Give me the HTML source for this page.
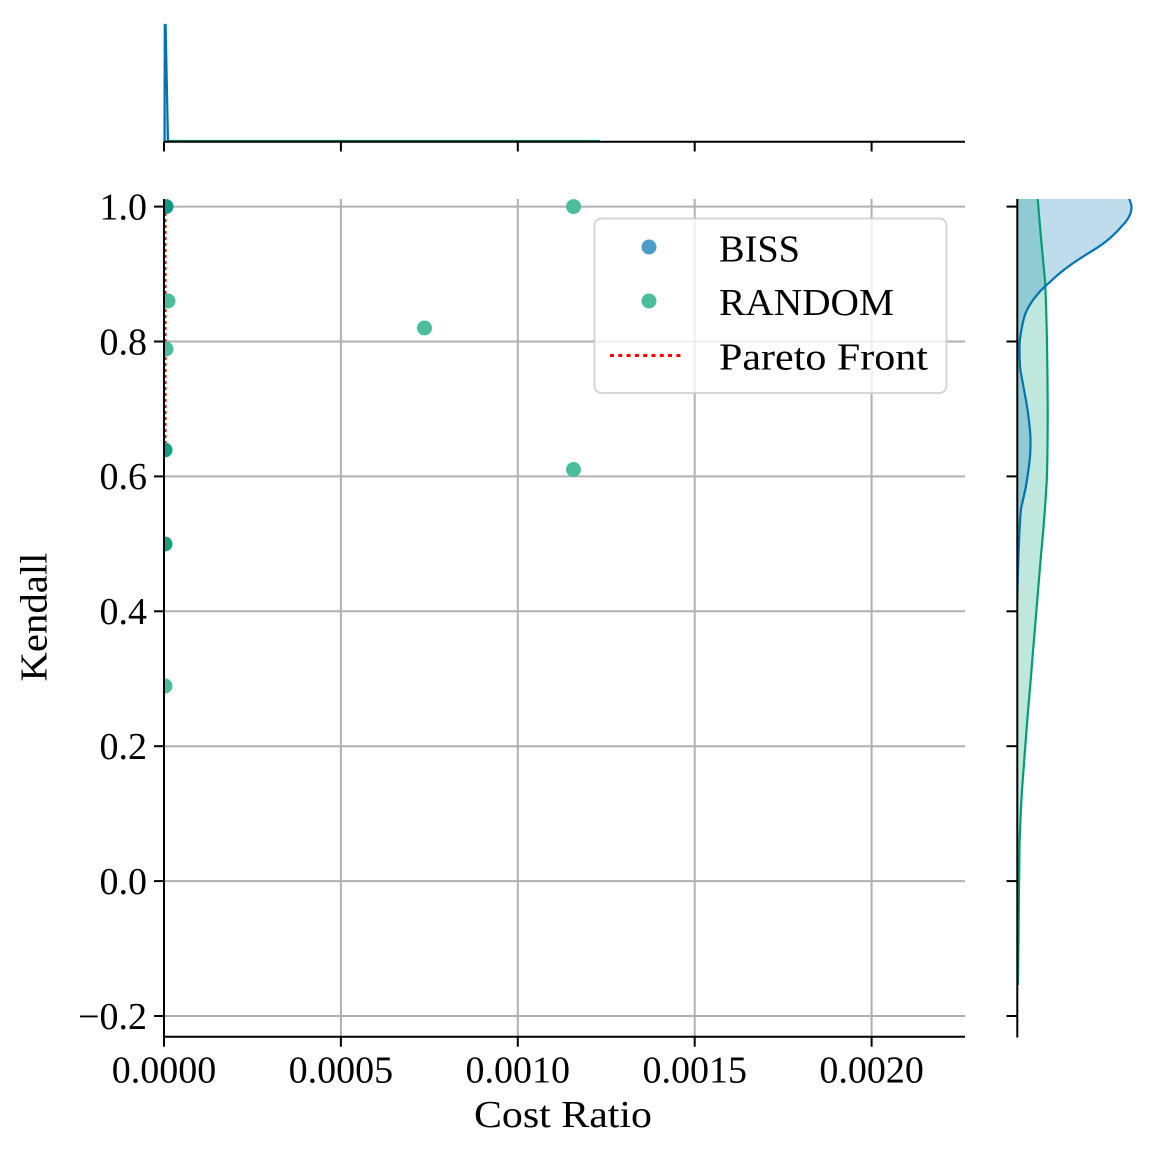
<!DOCTYPE html>
<html><head><meta charset="utf-8"><style>
html,body{margin:0;padding:0;background:#fff;}
svg{display:block;}
text{font-family:"Liberation Serif","DejaVu Serif",serif;fill:#000;}
</style></head><body>
<svg width="1155" height="1156" viewBox="0 0 1155 1156" xmlns="http://www.w3.org/2000/svg">
<defs>
<clipPath id="main"><rect x="164" y="199" width="801" height="838"/></clipPath>
<clipPath id="right"><rect x="1017" y="199" width="138" height="838"/></clipPath>
</defs>
<rect width="1155" height="1156" fill="#fff"/>

<!-- grid -->
<g stroke="#b0b0b0" stroke-width="2" fill="none">
<line x1="340.9" y1="199" x2="340.9" y2="1036.7"/>
<line x1="517.8" y1="199" x2="517.8" y2="1036.7"/>
<line x1="694.7" y1="199" x2="694.7" y2="1036.7"/>
<line x1="871.6" y1="199" x2="871.6" y2="1036.7"/>
<line x1="164" y1="206.6" x2="965" y2="206.6"/>
<line x1="164" y1="341.5" x2="965" y2="341.5"/>
<line x1="164" y1="476.4" x2="965" y2="476.4"/>
<line x1="164" y1="611.3" x2="965" y2="611.3"/>
<line x1="164" y1="746.2" x2="965" y2="746.2"/>
<line x1="164" y1="881.1" x2="965" y2="881.1"/>
<line x1="164" y1="1016" x2="965" y2="1016"/>
</g>

<!-- scatter -->
<g clip-path="url(#main)">
<line x1="165.5" y1="207" x2="165.5" y2="450" stroke="#ff0000" stroke-width="2" stroke-dasharray="3,3"/>
<circle cx="166" cy="206.6" r="7.5" fill="rgb(16,150,135)"/>
<circle cx="168" cy="301" r="7.5" fill="rgb(76,189,154)"/>
<circle cx="166" cy="349" r="7.5" fill="rgb(76,189,154)"/>
<circle cx="165" cy="450" r="7.5" fill="rgb(20,158,128)"/>
<circle cx="165" cy="544" r="7.5" fill="rgb(20,162,125)"/>
<circle cx="165" cy="686" r="7.5" fill="rgb(76,189,154)"/>
<circle cx="424.5" cy="328" r="7.5" fill="rgb(76,189,154)"/>
<circle cx="573.5" cy="206.6" r="7.5" fill="rgb(76,189,154)"/>
<circle cx="573.5" cy="469.5" r="7.5" fill="rgb(76,189,154)"/>
</g>

<!-- main spines & ticks -->
<g stroke="#000" stroke-width="2" fill="none">
<line x1="164" y1="199" x2="164" y2="1037.5"/>
<line x1="163" y1="1036.7" x2="965" y2="1036.7"/>
<line x1="154" y1="206.6" x2="164" y2="206.6"/>
<line x1="154" y1="341.5" x2="164" y2="341.5"/>
<line x1="154" y1="476.4" x2="164" y2="476.4"/>
<line x1="154" y1="611.3" x2="164" y2="611.3"/>
<line x1="154" y1="746.2" x2="164" y2="746.2"/>
<line x1="154" y1="881.1" x2="164" y2="881.1"/>
<line x1="154" y1="1016" x2="164" y2="1016"/>
<line x1="164" y1="1036.7" x2="164" y2="1046.7"/>
<line x1="340.9" y1="1036.7" x2="340.9" y2="1046.7"/>
<line x1="517.8" y1="1036.7" x2="517.8" y2="1046.7"/>
<line x1="694.7" y1="1036.7" x2="694.7" y2="1046.7"/>
<line x1="871.6" y1="1036.7" x2="871.6" y2="1046.7"/>
</g>

<!-- y tick labels -->
<g font-size="38" text-anchor="end">
<text x="147" y="219.4">1.0</text>
<text x="147" y="354.3">0.8</text>
<text x="147" y="489.2">0.6</text>
<text x="147" y="624.1">0.4</text>
<text x="147" y="759">0.2</text>
<text x="147" y="893.9">0.0</text>
<text x="147" y="1028.8">−0.2</text>
</g>
<!-- x tick labels -->
<g font-size="38" text-anchor="middle">
<text x="164" y="1082.5">0.0000</text>
<text x="340.9" y="1082.5">0.0005</text>
<text x="517.8" y="1082.5">0.0010</text>
<text x="694.7" y="1082.5">0.0015</text>
<text x="871.6" y="1082.5">0.0020</text>
</g>
<text x="474" y="1127" font-size="38" textLength="178" lengthAdjust="spacingAndGlyphs">Cost Ratio</text>
<text transform="translate(46.7,681.5) rotate(-90)" font-size="38" textLength="129" lengthAdjust="spacingAndGlyphs">Kendall</text>

<!-- legend -->
<rect x="594.5" y="218.5" width="352" height="174.5" rx="7" ry="7" fill="#fff" fill-opacity="0.8" stroke="#cccccc" stroke-opacity="0.8" stroke-width="2"/>
<circle cx="649" cy="247" r="7.5" fill="rgb(75,156,201)"/>
<circle cx="649" cy="301" r="7.5" fill="rgb(76,189,154)"/>
<line x1="610" y1="355.5" x2="681" y2="355.5" stroke="#ff0000" stroke-width="3" stroke-dasharray="4,4.3"/>
<text x="719" y="261.5" font-size="38" textLength="81" lengthAdjust="spacingAndGlyphs">BISS</text>
<text x="719" y="315" font-size="38" textLength="175" lengthAdjust="spacingAndGlyphs">RANDOM</text>
<text x="719" y="369.3" font-size="38" textLength="209" lengthAdjust="spacingAndGlyphs">Pareto Front</text>

<!-- top marginal -->
<path d="M164,141.7 L164.5,25 L165.5,25 L168,141.7 Z" fill="rgba(1,115,178,0.25)"/>
<line x1="167" y1="140.6" x2="600" y2="140.6" stroke="#029e73" stroke-width="1.5"/>
<polyline points="164.5,141.7 164.8,25 165.6,25 168,141.7" fill="none" stroke="#0173b2" stroke-width="2.2"/>
<g stroke="#000" stroke-width="2" fill="none">
<line x1="164" y1="141.7" x2="965" y2="141.7"/>
<line x1="164" y1="141.7" x2="164" y2="151.5"/>
<line x1="340.9" y1="141.7" x2="340.9" y2="151.5"/>
<line x1="517.8" y1="141.7" x2="517.8" y2="151.5"/>
<line x1="694.7" y1="141.7" x2="694.7" y2="151.5"/>
<line x1="871.6" y1="141.7" x2="871.6" y2="151.5"/>
</g>

<!-- right marginal -->
<g clip-path="url(#right)">
<path id="gk" d="M1017,190 L1037,190 C1037.7,199 1041,240 1045,280 C1047,320 1047.5,360 1047.7,413 C1047.6,450 1047.5,470 1046.5,485 C1045,510 1043,535 1041,555 C1037,600 1035,630 1032.7,655 C1030,690 1028.5,705 1027.5,717 C1025,750 1023.5,770 1022,790 C1020.5,815 1020,830 1019.5,845 C1018.8,900 1018.3,950 1018,985 L1017,985 Z" fill="rgba(2,158,115,0.25)" stroke="none"/>
<path d="M1017,190 L1126,190 C1129,199 1131.5,203 1131.5,207 C1131.5,214 1128,220 1122,226 C1115,234 1107,242 1092,251 C1077,260 1062,270 1050,282 C1043,288 1040,291 1037,295 C1031,302 1029,306 1027,310 C1024,316 1023,321 1022,327 C1020,336 1019.5,342 1019.5,347 C1019.5,355 1019.7,361 1020,367 C1021,375 1022.5,381 1023.5,387 C1025.5,398 1027,405 1028,413 C1029.5,425 1030.5,432 1030.5,440 C1030.6,447 1030.3,452 1030,457 C1029,467 1028,473 1027,480 C1025.5,490 1024,495 1023,500 C1022,504 1021.5,506 1021,509 C1020.3,516 1019.8,524 1019.5,531 C1018.8,545 1018.3,560 1018,570 C1017.6,585 1017.4,595 1017.2,600 L1017,600 Z" fill="rgba(1,115,178,0.25)" stroke="none"/>
<path d="M1037,190 C1037.7,199 1041,240 1045,280 C1047,320 1047.5,360 1047.7,413 C1047.6,450 1047.5,470 1046.5,485 C1045,510 1043,535 1041,555 C1037,600 1035,630 1032.7,655 C1030,690 1028.5,705 1027.5,717 C1025,750 1023.5,770 1022,790 C1020.5,815 1020,830 1019.5,845 C1018.8,900 1018.3,950 1018,985" fill="none" stroke="#029e73" stroke-width="2.2"/>
<path d="M1126,190 C1129,199 1131.5,203 1131.5,207 C1131.5,214 1128,220 1122,226 C1115,234 1107,242 1092,251 C1077,260 1062,270 1050,282 C1043,288 1040,291 1037,295 C1031,302 1029,306 1027,310 C1024,316 1023,321 1022,327 C1020,336 1019.5,342 1019.5,347 C1019.5,355 1019.7,361 1020,367 C1021,375 1022.5,381 1023.5,387 C1025.5,398 1027,405 1028,413 C1029.5,425 1030.5,432 1030.5,440 C1030.6,447 1030.3,452 1030,457 C1029,467 1028,473 1027,480 C1025.5,490 1024,495 1023,500 C1022,504 1021.5,506 1021,509 C1020.3,516 1019.8,524 1019.5,531 C1018.8,545 1018.3,560 1018,570 C1017.6,585 1017.4,595 1017.2,600" fill="none" stroke="#0173b2" stroke-width="2.2"/>
</g>
<g stroke="#000" stroke-width="2" fill="none">
<line x1="1017.3" y1="199" x2="1017.3" y2="1037.5"/>
<line x1="1006.5" y1="206.6" x2="1017.3" y2="206.6"/>
<line x1="1006.5" y1="341.5" x2="1017.3" y2="341.5"/>
<line x1="1006.5" y1="476.4" x2="1017.3" y2="476.4"/>
<line x1="1006.5" y1="611.3" x2="1017.3" y2="611.3"/>
<line x1="1006.5" y1="746.2" x2="1017.3" y2="746.2"/>
<line x1="1006.5" y1="881.1" x2="1017.3" y2="881.1"/>
<line x1="1006.5" y1="1016" x2="1017.3" y2="1016"/>
</g>
</svg>
</body></html>
